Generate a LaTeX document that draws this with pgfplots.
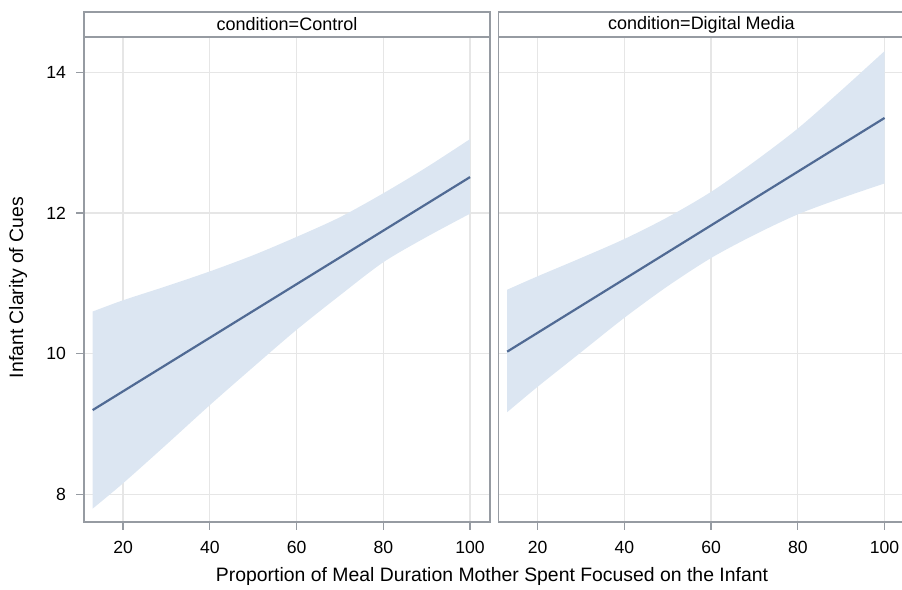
\documentclass[border=0pt]{standalone}
\usepackage{pgfplots}
\pgfplotsset{compat=1.18}
\usepgfplotslibrary{fillbetween}
\usepackage{fontspec}
\setmainfont{Liberation Sans}

\definecolor{bandblue}{RGB}{220,230,242}
\definecolor{fitblue}{RGB}{80,106,148}
\definecolor{framegray}{RGB}{150,155,162}
\definecolor{gridgray}{RGB}{230,230,230}

\pgfplotsset{
  panel/.style={
    scale only axis, width=203pt, height=242.5pt,
    anchor=south west,
    xmin=11, xmax=104.6, ymin=7.61, ymax=14.5,
    xtick={20,40,60,80,100}, ytick={8,10,12,14},
    grid=major, major grid style={gridgray, line width=0.6pt},
    axis line style={framegray, line width=0.8pt},
    tick style={framegray, line width=0.6pt},
    tick align=outside, major tick length=4pt,
    xtick pos=bottom, ytick pos=left,
    tick label style={font=\fontsize{8.8}{10}\selectfont},
    xticklabel style={yshift=-2pt},
    yticklabel style={xshift=-1.5pt},
    /pgf/number format/assume math mode=true,
  },
}

\begin{document}
\begin{tikzpicture}
% condition = Control
\begin{axis}[panel, name=L, at={(42pt,34pt)}]
\addplot[name path=up, draw=none, smooth] coordinates {(13,10.60) (20,10.76) (30,10.96) (40,11.17) (50,11.40) (60,11.66) (70,11.94) (80,12.28) (90,12.65) (100,13.05)};
\addplot[name path=lo, draw=none, smooth] coordinates {(13,7.80) (20,8.16) (30,8.71) (40,9.27) (50,9.81) (60,10.34) (70,10.83) (80,11.30) (90,11.66) (100,11.99)};
\addplot[bandblue] fill between[of=up and lo];
\addplot[fitblue, line width=1.1pt] coordinates {(13,9.20) (100,12.51)};
\end{axis}

% condition = Digital Media
\begin{axis}[panel, name=R, at={(249.25pt,34pt)}, yticklabels={}, ytick style={draw=none}]
\addplot[name path=up, draw=none, smooth] coordinates {(13,10.91) (20,11.10) (30,11.36) (40,11.63) (50,11.94) (60,12.30) (70,12.73) (80,13.20) (90,13.74) (100,14.30)};
\addplot[name path=lo, draw=none, smooth] coordinates {(13,9.17) (20,9.53) (30,10.02) (40,10.51) (50,10.96) (60,11.36) (70,11.69) (80,11.98) (90,12.21) (100,12.42)};
\addplot[bandblue] fill between[of=up and lo];
\addplot[fitblue, line width=1.1pt] coordinates {(13,10.03) (100,13.35)};
\end{axis}

% panel headers
\draw[framegray, line width=0.8pt] (L.north west) rectangle ([yshift=12.5pt]L.north east);
\node[font=\fontsize{9}{10}\selectfont] at ([yshift=6.25pt]L.north) {condition=Control};
\draw[framegray, line width=0.8pt] (R.north west) rectangle ([yshift=12.5pt]R.north east);
\node[font=\fontsize{9}{10}\selectfont] at ([yshift=6.25pt]R.north) {condition=Digital Media};

% axis labels
\node[font=\fontsize{9.7}{11}\selectfont] at (246pt,7pt) {Proportion of Meal Duration Mother Spent Focused on the Infant};
\node[font=\fontsize{9.7}{11}\selectfont, rotate=90] at (9pt,151.25pt) {Infant Clarity of Cues};

\pgfresetboundingbox
\path (0,0) rectangle (451pt,295pt);
\end{tikzpicture}
\end{document}
